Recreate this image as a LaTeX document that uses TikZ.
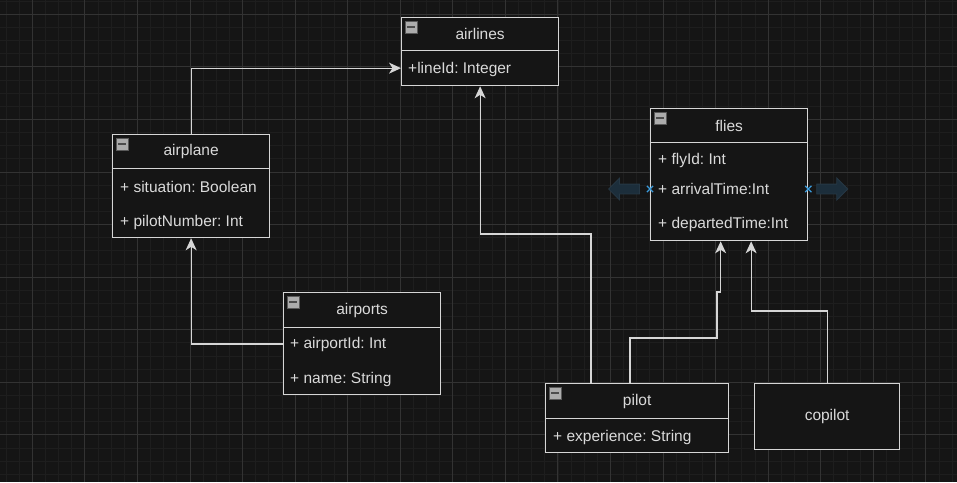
\documentclass[tikz,border=0pt]{standalone}
\usepackage{fontspec}
\setmainfont{Liberation Sans}
\frenchspacing
\usetikzlibrary{arrows.meta,shapes.arrows,shapes.misc,positioning}
\definecolor{bgdark}{HTML}{151515}
\definecolor{minorgrid}{HTML}{1E1E1E}
\definecolor{majorgrid}{HTML}{333333}
\definecolor{boxline}{HTML}{D6D6D6}
\definecolor{labeltext}{HTML}{DADADA}
\definecolor{navfill}{HTML}{1C2E3B}
\definecolor{navedge}{HTML}{263845}
\definecolor{markblue}{HTML}{3A9BDC}
\tikzset{
  minorline/.style={minorgrid, line width=0.8pt},
  majorline/.style={majorgrid, line width=0.9pt},
  classhead/.style={draw=boxline, fill=bgdark, text=labeltext, line width=1.3pt,
    anchor=north west, inner sep=0pt},
  classbody/.style={draw=boxline, fill=bgdark, line width=1.3pt,
    anchor=north west, inner sep=0pt},
  attr/.style={anchor=west, text=labeltext, inner sep=0pt},
  iconbox/.style={draw=gray!70!black, fill=gray!65, minimum size=12pt, inner sep=0pt,
    line width=0.6pt,
    path picture={\draw[black!70, line width=1.6pt]
      ([xshift=2pt]path picture bounding box.west) --
      ([xshift=-2pt]path picture bounding box.east);}},
  assoc/.style={draw=boxline, line width=1.3pt,
    -{Stealth[length=12pt, width=11pt, inset=3.5pt]}},
  navarrow/.style={single arrow, draw=navedge, fill=navfill, line width=0.8pt,
    inner xsep=0pt, inner ysep=4.5pt, minimum height=31pt,
    single arrow head extend=6pt},
  xmark/.style={cross out, draw=markblue, line width=1.2pt, minimum size=5pt, inner sep=0pt}
}
\begin{document}
\begin{tikzpicture}[x=1pt, y=-1pt, font=\fontsize{15.5}{18}\selectfont]
\useasboundingbox (0,0) rectangle (957,482);
\fill[bgdark] (0,0) rectangle (957,482);
% Rejilla de fondo
\foreach \i in {0,...,72} \draw[minorline] ({6.02+13.14*\i},0) -- ++(0,482);
\foreach \j in {0,...,36} \draw[minorline] (0,{1.16+13.14*\j}) -- ++(957,0);
\foreach \i in {0,...,17} \draw[majorline] ({32.3+52.56*\i},0) -- ++(0,482);
\foreach \j in {0,...,8} \draw[majorline] (0,{14.3+52.56*\j}) -- ++(957,0);
% Clase airlines
\node[classhead, minimum width=157, minimum height=33] (airlines-h) at (401,17) {airlines};
\node[classbody, minimum width=157, minimum height=35] (airlines-b) at (401,50) {};
\node[attr] (airlines-a1) at (408,69) {+lineId: Integer};
% Clase airplane
\node[classhead, minimum width=157, minimum height=34] (airplane-h) at (112,134) {airplane};
\node[classbody, minimum width=157, minimum height=69] (airplane-b) at (112,168) {};
\node[attr] (airplane-a1) at (120,187) {+ situation: Boolean};
\node[attr] (airplane-a2) at (120,222) {+ pilotNumber: Int};
% Clase flies
\node[classhead, minimum width=157, minimum height=34] (flies-h) at (650,108) {flies};
\node[classbody, minimum width=157, minimum height=98] (flies-b) at (650,142) {};
\node[attr] (flies-a1) at (658,160) {+ flyId: Int};
\node[attr] (flies-a2) at (658,189) {+ arrivalTime:Int};
\node[attr] (flies-a3) at (658,224) {+ departedTime:Int};
% Clase airports
\node[classhead, minimum width=157, minimum height=35] (airports-h) at (283,292) {airports};
\node[classbody, minimum width=157, minimum height=67] (airports-b) at (283,327) {};
\node[attr] (airports-a1) at (290,344) {+ airportId: Int};
\node[attr] (airports-a2) at (290,379) {+ name: String};
% Clase pilot
\node[classhead, minimum width=183, minimum height=35] (pilot-h) at (545,383) {pilot};
\node[classbody, minimum width=183, minimum height=34] (pilot-b) at (545,418) {};
\node[attr] (pilot-a1) at (553,437) {+ experience: String};
% Clase copilot
\node[classhead, minimum width=145, minimum height=66] (copilot) at (754,383) {copilot};
% Iconos de plegado
\foreach \n in {airlines-h,airplane-h,flies-h,airports-h,pilot-h}
  \node[iconbox] (\n-ic) at ([shift={(10,10)}]\n.north west) {};
% Flechas de desplazamiento junto a flies
\node[navarrow, shape border rotate=180, anchor=tip] (navl) at ([xshift=-42]flies-b.west |- flies-a2) {};
\node[navarrow, anchor=tip] (navr) at ([xshift=40]flies-b.east |- flies-a2) {};
\node[xmark] (markl) at (flies-b.west |- flies-a2) {};
\node[xmark] (markr) at (flies-b.east |- flies-a2) {};
% Conectores
\coordinate (p1) at (591,234);
\coordinate (p2) at (630,338);
\coordinate (p3) at (717,292);
\coordinate (f1) at ([xshift=-8.5]flies-b.south);
\coordinate (f2) at ([xshift=22]flies-b.south);
\draw[assoc] (airplane-h.north) |- (airlines-b.west);
\draw[assoc] (airports-b.west |- airports-a1) -| (airplane-b.south);
\draw[assoc] (pilot-h.north -| p1) -- (p1) -| (airlines-b.south);
\draw[assoc] (pilot-h.north -| p2) -- (p2) -| (p3) -- (p3 -| f1) -- (f1);
\draw[assoc] (copilot.north) -- ++(0,-72) -| (f2);
\end{tikzpicture}
\end{document}
